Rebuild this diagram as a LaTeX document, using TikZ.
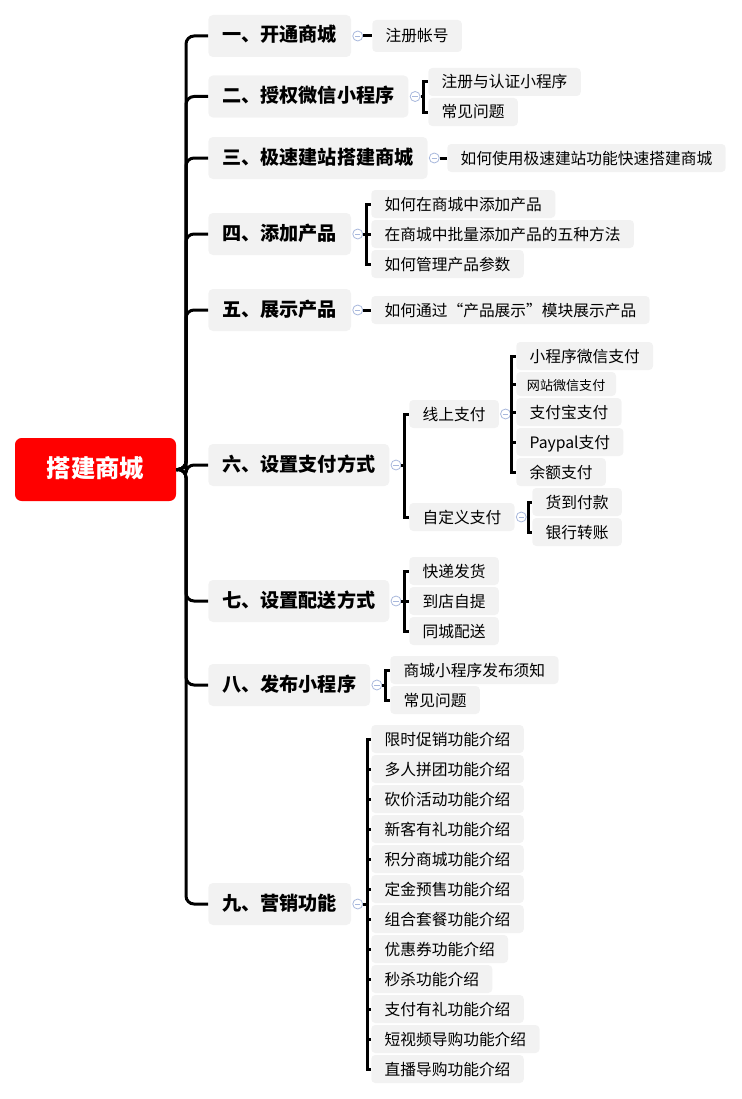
\documentclass[tikz,border=0pt]{standalone}
\usepackage{fontspec}
\setmainfont{Noto Sans CJK SC}
\usetikzlibrary{positioning}
\definecolor{boxgray}{HTML}{F2F2F2}
\definecolor{foldblue}{HTML}{A8B8DC}
\definecolor{rootred}{HTML}{FF0000}

\begin{document}
\begin{tikzpicture}[
    x=0.75pt,
    y=-0.75pt,
    root/.style={fill=rootred, rounded corners=5pt, text=white,
        font=\fontsize{18.3pt}{21pt}\selectfont\bfseries,
        minimum width=120.75pt, minimum height=47.25pt,
        text height=1.2em, text depth=0em},
    topic/.style={fill=boxgray, rounded corners=3.5pt, anchor=west,
        font=\fontsize{14.35pt}{17pt}\selectfont\bfseries,
        inner xsep=10.5pt, inner ysep=0pt, minimum height=31.5pt,
        text height=0.95em, text depth=0.05em},
    item/.style={fill=boxgray, rounded corners=3pt, anchor=west,
        font=\fontsize{11.8pt}{14pt}\selectfont,
        inner xsep=10pt, inner ysep=0pt, minimum height=21pt,
        text height=0.95em, text depth=0.05em},
    fold/.style={circle, draw=foldblue, fill=white, line width=0.6pt,
        minimum size=7.5pt, inner sep=0pt,
        path picture={\draw[foldblue, line width=0.6pt]
            ([xshift=-2pt]path picture bounding box.center) --
            ([xshift=2pt]path picture bounding box.center);}},
    trunk/.style={line width=2.25pt, rounded corners=6pt},
    brace/.style={line width=2.25pt}
]

\useasboundingbox (0,0) rectangle (742,1099);

% Korzeń
\node[root] (root) at (95.5,469.5) {搭建商城};
\coordinate (t) at (186,469.5);

% Tematy główne
\node[topic] (a1) at (208,36) {一、开通商城};
\node[topic] (a2) at (208,96.5) {二、授权微信小程序};
\node[topic] (a3) at (208,158) {三、极速建站搭建商城};
\node[topic] (a4) at (208,234) {四、添加产品};
\node[topic] (a5) at (208,310) {五、展示产品};
\node[topic] (a6) at (208,465) {六、设置支付方式};
\node[topic] (a7) at (208,601) {七、设置配送方式};
\node[topic] (a8) at (208,685) {八、发布小程序};
\node[topic] (a9) at (208,904) {九、营销功能};

% Pień
\draw[trunk] (root.east) -- (t) |- (a1);
\draw[trunk] (root.east) -- (t) |- (a2);
\draw[trunk] (root.east) -- (t) |- (a3);
\draw[trunk] (root.east) -- (t) |- (a4);
\draw[trunk] (root.east) -- (t) |- (a5);
\draw[trunk] (root.east) -- (t) |- (a6);
\draw[trunk] (root.east) -- (t) |- (a7);
\draw[trunk] (root.east) -- (t) |- (a8);
\draw[trunk] (root.east) -- (t) |- (a9);

% Znaczniki zwijania
\node[fold, right=0.75pt of a1] (m1) {};
\node[fold, right=0.75pt of a2] (m2) {};
\node[fold, right=0.75pt of a3] (m3) {};
\node[fold, right=0.75pt of a4] (m4) {};
\node[fold, right=0.75pt of a5] (m5) {};
\node[fold, right=0.75pt of a6] (m6) {};
\node[fold, right=0.75pt of a7] (m7) {};
\node[fold, right=0.75pt of a8] (m8) {};
\node[fold, right=0.75pt of a9] (m9) {};

% Jeden
\node[item, minimum height=24pt] (a1b1) at (372,36) {注册帐号};
\draw[brace] (m1) -- (a1b1);

% Dwa
\node[item] (a2b1) at (428,82) {注册与认证小程序};
\node[item] (a2b2) at (428,112) {常见问题};
\coordinate (k2) at (423,96.5);
\draw[brace] (m2) -- (k2) |- (a2b1);
\draw[brace] (k2) |- (a2b2);

% Trzy
\node[item] (a3b1) at (447,158) {如何使用极速建站功能快速搭建商城};
\draw[brace] (m3) -- (a3b1);

% Cztery
\node[item] (a4b1) at (371,204) {如何在商城中添加产品};
\node[item] (a4b2) at (371,234) {在商城中批量添加产品的五种方法};
\node[item] (a4b3) at (371,264) {如何管理产品参数};
\coordinate (k4) at (366,234);
\draw[brace] (m4) -- (a4b2);
\draw[brace] (k4) |- (a4b1);
\draw[brace] (k4) |- (a4b3);

% Pięć
\node[item] (a5b1) at (371,310) {如何通过“产品展示”模块展示产品};
\draw[brace] (m5) -- (a5b1);

% Sześć
\node[item] (a6b1) at (409,414) {线上支付};
\node[item] (a6b2) at (409,517) {自定义支付};
\coordinate (k6) at (404,465);
\draw[brace] (m6) -- (k6);
\draw[brace] (k6) |- (a6b1);
\draw[brace] (k6) |- (a6b2);

\node[fold, right=0.75pt of a6b1] (m61) {};
\node[item] (a6c1) at (516,356) {小程序微信支付};
\node[item, font=\fontsize{9.8pt}{12pt}\selectfont, minimum height=18pt,
    inner xsep=8pt] (a6c2) at (516,384) {网站微信支付};
\node[item] (a6c3) at (516,412) {支付宝支付};
\node[item] (a6c4) at (516,442) {Paypal支付};
\node[item] (a6c5) at (516,472) {余额支付};
\coordinate (k61) at (511,414);
\draw[brace] (m61) -- (k61);
\draw[brace] (k61) |- (a6c1);
\draw[brace] (k61) |- (a6c2);
\draw[brace] (k61) |- (a6c3);
\draw[brace] (k61) |- (a6c4);
\draw[brace] (k61) |- (a6c5);

\node[fold, right=0.75pt of a6b2] (m62) {};
\node[item] (a6d1) at (532,502) {货到付款};
\node[item] (a6d2) at (532,532) {银行转账};
\coordinate (k62) at (528,517);
\draw[brace] (m62) -- (k62);
\draw[brace] (k62) |- (a6d1);
\draw[brace] (k62) |- (a6d2);

% Siedem
\node[item] (a7b1) at (409,571) {快递发货};
\node[item] (a7b2) at (409,601) {到店自提};
\node[item] (a7b3) at (409,631) {同城配送};
\coordinate (k7) at (404,601);
\draw[brace] (m7) -- (a7b2);
\draw[brace] (k7) |- (a7b1);
\draw[brace] (k7) |- (a7b3);

% Osiem
\node[item] (a8b1) at (390,670) {商城小程序发布须知};
\node[item] (a8b2) at (390,700) {常见问题};
\coordinate (k8) at (385,685);
\draw[brace] (m8) -- (k8);
\draw[brace] (k8) |- (a8b1);
\draw[brace] (k8) |- (a8b2);

% Dziewięć
\node[item] (a9b1) at (371,739) {限时促销功能介绍};
\node[item] (a9b2) at (371,769) {多人拼团功能介绍};
\node[item] (a9b3) at (371,799) {砍价活动功能介绍};
\node[item] (a9b4) at (371,829) {新客有礼功能介绍};
\node[item] (a9b5) at (371,859) {积分商城功能介绍};
\node[item] (a9b6) at (371,889) {定金预售功能介绍};
\node[item] (a9b7) at (371,919) {组合套餐功能介绍};
\node[item] (a9b8) at (371,949) {优惠券功能介绍};
\node[item] (a9b9) at (371,979) {秒杀功能介绍};
\node[item] (a9b10) at (371,1009) {支付有礼功能介绍};
\node[item] (a9b11) at (371,1039) {短视频导购功能介绍};
\node[item] (a9b12) at (371,1069) {直播导购功能介绍};
\coordinate (k9) at (367,904);
\draw[brace] (m9) -- (k9);
\draw[brace] (k9) |- (a9b1);
\draw[brace] (k9) |- (a9b2);
\draw[brace] (k9) |- (a9b3);
\draw[brace] (k9) |- (a9b4);
\draw[brace] (k9) |- (a9b5);
\draw[brace] (k9) |- (a9b6);
\draw[brace] (k9) |- (a9b7);
\draw[brace] (k9) |- (a9b8);
\draw[brace] (k9) |- (a9b9);
\draw[brace] (k9) |- (a9b10);
\draw[brace] (k9) |- (a9b11);
\draw[brace] (k9) |- (a9b12);

\end{tikzpicture}
\end{document}
